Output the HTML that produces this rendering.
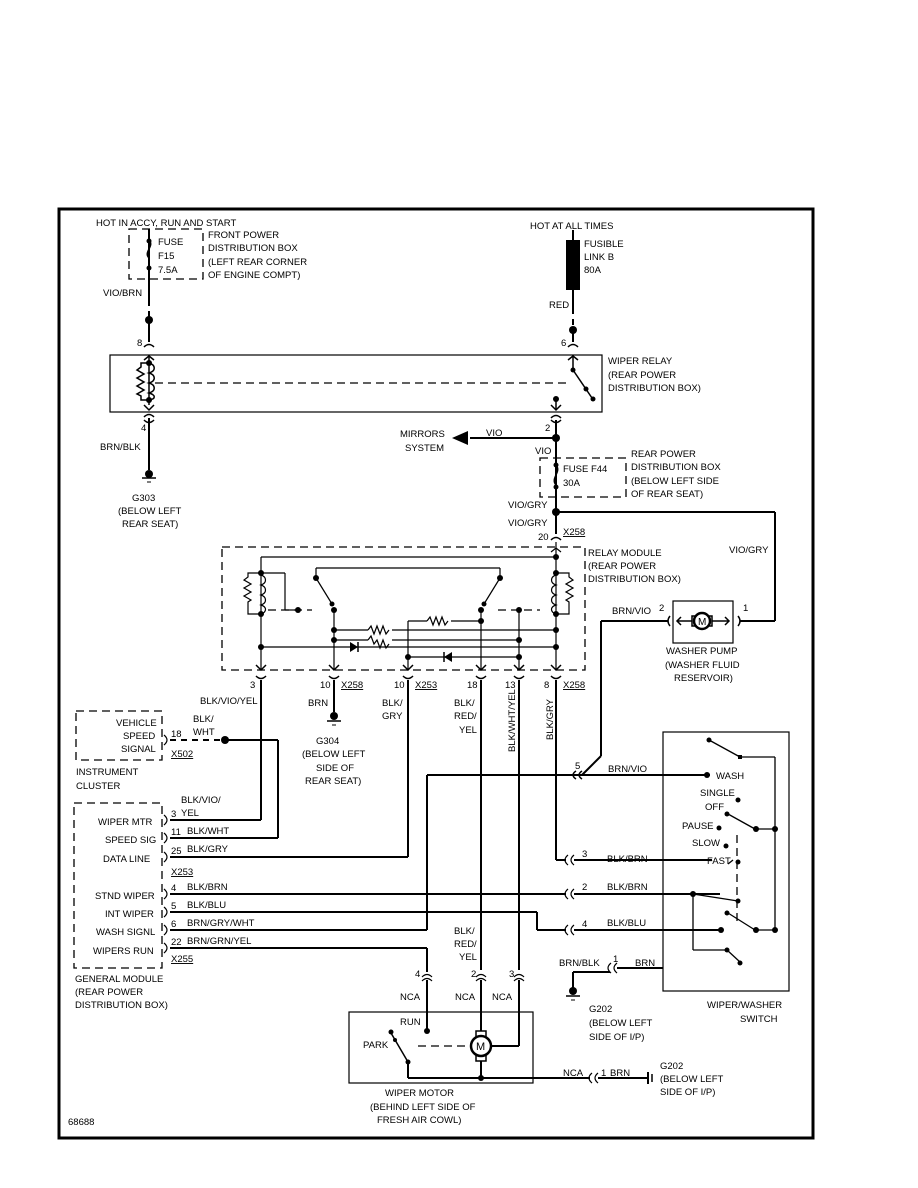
<!DOCTYPE html>
<html><head><meta charset="utf-8"><style>
html,body{margin:0;padding:0;background:#fff;}
svg{display:block;}
text{font-family:"Liberation Sans",sans-serif;font-size:9.5px;fill:#000;}
</style></head><body>
<svg width="918" height="1188" viewBox="0 0 918 1188" xmlns="http://www.w3.org/2000/svg">
<rect x="0" y="0" width="918" height="1188" fill="#fff"/>
<rect x="59" y="209" width="754" height="929" fill="none" stroke="#000" stroke-width="3"/>

<g stroke="#000" fill="none" stroke-width="2">
<line x1="149" y1="229" x2="149" y2="300"/>
<line x1="149" y1="300" x2="149" y2="322" stroke-dasharray="6,5"/>
<line x1="149" y1="322" x2="149" y2="342"/>
<line x1="149" y1="418" x2="149" y2="470"/>
<line x1="573" y1="230" x2="573" y2="240"/>
<line x1="573" y1="290" x2="573" y2="308"/>
<line x1="573" y1="308" x2="573" y2="328" stroke-dasharray="6,5"/>
<line x1="573" y1="328" x2="573" y2="342"/>
<line x1="556" y1="420" x2="556" y2="534"/>
<line x1="470" y1="438" x2="556" y2="438"/>
<line x1="556" y1="512" x2="775" y2="512"/>
<line x1="775" y1="512" x2="775" y2="621"/>
<line x1="775" y1="621" x2="740" y2="621"/>
<line x1="668" y1="621" x2="601" y2="621"/>
<line x1="601" y1="621" x2="601" y2="756"/>
<line x1="601" y1="756" x2="582" y2="775"/>
<line x1="427" y1="775" x2="710" y2="775"/>
<line x1="427" y1="775" x2="427" y2="930"/>
<line x1="261" y1="680" x2="261" y2="820"/>
<line x1="170" y1="820" x2="261" y2="820"/>
<line x1="334" y1="680" x2="334" y2="712"/>
<line x1="408" y1="680" x2="408" y2="857"/>
<line x1="170" y1="857" x2="408" y2="857"/>
<line x1="481" y1="680" x2="481" y2="970"/>
<line x1="519" y1="680" x2="519" y2="970"/>
<line x1="556" y1="680" x2="556" y2="860"/>
<line x1="556" y1="860" x2="566" y2="860"/>
<line x1="574" y1="860" x2="712" y2="860"/>
<line x1="170" y1="740" x2="222" y2="740" stroke-dasharray="6,5"/>
<line x1="225" y1="740" x2="278" y2="740"/>
<line x1="278" y1="740" x2="278" y2="838"/>
<line x1="170" y1="838" x2="278" y2="838"/>
<line x1="170" y1="894" x2="566" y2="894"/>
<line x1="574" y1="894" x2="720" y2="894"/>
<line x1="170" y1="912" x2="537" y2="912"/>
<line x1="537" y1="912" x2="537" y2="930"/>
<line x1="537" y1="930" x2="566" y2="930"/>
<line x1="574" y1="930" x2="722" y2="930"/>
<line x1="170" y1="930" x2="427" y2="930"/>
<line x1="170" y1="948" x2="427" y2="948"/>
<line x1="427" y1="948" x2="427" y2="972"/>
<line x1="427" y1="980" x2="427" y2="1031"/>
<line x1="481" y1="980" x2="481" y2="1034"/>
<line x1="519" y1="980" x2="519" y2="1046"/>
<line x1="519" y1="1046" x2="492" y2="1046"/>
<line x1="573" y1="972" x2="573" y2="988"/>
<line x1="573" y1="972" x2="610" y2="972"/>
<line x1="617" y1="968" x2="663" y2="968"/>
<line x1="408" y1="1062" x2="408" y2="1078"/>
<line x1="408" y1="1078" x2="590" y2="1078"/>
<line x1="598" y1="1078" x2="648" y2="1078"/>
<line x1="481" y1="1058" x2="481" y2="1078"/>
</g>

<g stroke="#000" fill="none" stroke-width="1.3" stroke-dasharray="8,5">
<rect x="129" y="229" width="74" height="50"/>
<rect x="540" y="458" width="86" height="39"/>
<rect x="222" y="547" width="363" height="123"/>
<rect x="76" y="711" width="86" height="49"/>
<rect x="74" y="803" width="88" height="165"/>
<line x1="155" y1="383" x2="570" y2="383"/>
<line x1="418" y1="1046" x2="470" y2="1046"/>
<line x1="737" y1="835" x2="737" y2="926"/>
<line x1="268" y1="610" x2="312" y2="610"/>
<line x1="498" y1="610" x2="540" y2="610"/>
</g>
<path d="M149 240 C155 246,143 252,149 258" stroke="#000" fill="none" stroke-width="1.5"/>
<circle cx="149" cy="268" r="2.5"/>
<circle cx="149" cy="241" r="2.5"/>
<circle cx="149" cy="320" r="4"/>
<rect x="566" y="240" width="14" height="50" fill="#000"/>
<circle cx="573" cy="330" r="4"/>

<rect x="110" y="355" width="492" height="57" fill="none" stroke="#000" stroke-width="1.2"/>
<g stroke="#000" fill="none" stroke-width="1.5">
<path d="M144 347 Q149 342 154 347"/>
<path d="M144 417 Q149 412 154 417"/>
<path d="M144 420 Q149 425 154 420"/>
<line x1="149" y1="355" x2="149" y2="405"/>
<path d="M149 363 L141 363 L141 367 L137 370 L144 374 L137 378 L144 382 L137 386 L144 390 L137 394 L141 396 L141 400 L149 400"/>
<path d="M149 363 C156 365,156 371,149 373 C156 375,156 381,149 383 C156 385,156 391,149 393 C156 395,156 399,149 400"/>
<path d="M144 360 L149 356 L154 360"/>
<path d="M144 405 L149 410 L154 405"/>
<path d="M568 347 Q573 342 578 347"/>
<line x1="573" y1="355" x2="573" y2="368"/>
<path d="M568 360 L573 356 L578 360"/>
<line x1="573" y1="370" x2="592" y2="398"/>
<path d="M551 420 Q556 425 561 420"/>
<path d="M551 418 Q556 413 561 418"/>
<line x1="556" y1="398" x2="556" y2="410"/>
<path d="M551 405 L556 410 L561 405"/>
<path d="M582 779 Q576 775 582 771"/>
<path d="M576 779 Q570 775 576 771"/>
</g>
<circle cx="149" cy="363" r="3"/><circle cx="149" cy="400" r="3"/>
<circle cx="573" cy="370" r="2.5"/><circle cx="586" cy="389" r="2.5"/><circle cx="593" cy="399" r="2.5"/>
<circle cx="556" cy="399" r="3"/>
<circle cx="556" cy="438" r="4"/>
<polygon points="452,438 468,431 468,445" fill="#000"/>
<circle cx="149" cy="474" r="4"/>
<line x1="142" y1="478" x2="156" y2="478" stroke="#000" stroke-width="1.5"/>
<line x1="147" y1="482" x2="151" y2="482" stroke="#000" stroke-width="1"/>
<path d="M556 465 C562 472,550 478,556 485" stroke="#000" fill="none" stroke-width="1.5"/>
<circle cx="556" cy="465" r="2.5"/><circle cx="556" cy="487" r="2.5"/>
<circle cx="556" cy="512" r="4"/>
<path d="M551 540 Q556 535 561 540" stroke="#000" fill="none" stroke-width="1.5"/>

<g stroke="#000" fill="none" stroke-width="1.2">
<line x1="261" y1="557" x2="556" y2="557"/>
<line x1="556" y1="542" x2="556" y2="557"/>
<path d="M551 552 L556 548 L561 552"/>
<line x1="261" y1="557" x2="261" y2="670"/>
<line x1="556" y1="557" x2="556" y2="670"/>
<line x1="316" y1="568" x2="500" y2="568"/>
<line x1="316" y1="568" x2="316" y2="578"/>
<line x1="500" y1="568" x2="500" y2="578"/>
<line x1="316" y1="578" x2="332" y2="604"/>
<line x1="500" y1="578" x2="484" y2="604"/>
<line x1="334" y1="610" x2="334" y2="670"/>
<line x1="261" y1="573" x2="285" y2="573"/>
<line x1="285" y1="573" x2="285" y2="610"/>
<line x1="285" y1="610" x2="298" y2="610"/>
<path d="M261 573 L248 573 L248 577 L244 580 L251 584 L244 588 L251 592 L244 596 L251 600 L248 602 L248 614 L261 614"/>
<path d="M261 575 C267 577,267 583,261 585 C267 587,267 593,261 595 C267 597,267 603,261 605 C267 607,267 612,261 614"/>
<path d="M556 573 L569 573 L569 577 L573 580 L566 584 L573 588 L566 592 L573 596 L566 600 L569 602 L569 614 L556 614"/>
<path d="M556 575 C550 577,550 583,556 585 C550 587,550 593,556 595 C550 597,550 603,556 605 C550 607,550 612,556 614"/>
<line x1="481" y1="610" x2="481" y2="670"/>
<line x1="519" y1="610" x2="519" y2="670"/>
<line x1="334" y1="630" x2="368" y2="630"/>
<path d="M368 630 l3 -4 l3 8 l3 -8 l3 8 l3 -8 l3 8 l3 -4"/>
<line x1="392" y1="630" x2="556" y2="630"/>
<line x1="334" y1="640" x2="368" y2="640"/>
<path d="M368 640 l3 -4 l3 8 l3 -4 l3 8 l3 -8 l3 8 l3 -4"/>
<line x1="392" y1="640" x2="519" y2="640"/>
<line x1="408" y1="621" x2="427" y2="621"/>
<path d="M427 621 l3 -4 l3 8 l3 -8 l3 8 l3 -8 l3 8 l3 -4"/>
<line x1="451" y1="621" x2="481" y2="621"/>
<line x1="408" y1="621" x2="408" y2="670"/>
<line x1="261" y1="647" x2="556" y2="647"/>
<line x1="408" y1="657" x2="519" y2="657"/>
</g>
<polygon points="350,642 350,652 358,647" fill="#000"/><line x1="358" y1="642" x2="358" y2="652" stroke="#000" stroke-width="1.5"/>
<polygon points="452,652 452,662 444,657" fill="#000"/><line x1="444" y1="652" x2="444" y2="662" stroke="#000" stroke-width="1.5"/>
<g fill="#000">
<circle cx="261" cy="573" r="3"/><circle cx="261" cy="614" r="3"/><circle cx="261" cy="647" r="3"/>
<circle cx="298" cy="610" r="3"/><circle cx="316" cy="578" r="3"/><circle cx="332" cy="604" r="2.5"/><circle cx="334" cy="610" r="3"/>
<circle cx="334" cy="630" r="3"/><circle cx="334" cy="640" r="3"/>
<circle cx="500" cy="578" r="3"/><circle cx="484" cy="604" r="2.5"/><circle cx="481" cy="610" r="3"/><circle cx="481" cy="621" r="3"/>
<circle cx="519" cy="610" r="3"/><circle cx="519" cy="640" r="3"/><circle cx="519" cy="657" r="3"/>
<circle cx="408" cy="657" r="3"/>
<circle cx="556" cy="557" r="3"/><circle cx="556" cy="573" r="3"/><circle cx="556" cy="614" r="3"/><circle cx="556" cy="630" r="3"/><circle cx="556" cy="647" r="3"/>
</g>
<g stroke="#000" fill="none" stroke-width="1.5">
<path d="M256 665 L261 670 L266 665"/><path d="M256 676 Q261 681 266 676"/>
<path d="M329 665 L334 670 L339 665"/><path d="M329 676 Q334 681 339 676"/>
<path d="M403 665 L408 670 L413 665"/><path d="M403 676 Q408 681 413 676"/>
<path d="M476 665 L481 670 L486 665"/><path d="M476 676 Q481 681 486 676"/>
<path d="M514 665 L519 670 L524 665"/><path d="M514 676 Q519 681 524 676"/>
<path d="M551 665 L556 670 L561 665"/><path d="M551 676 Q556 681 561 676"/>
</g>
<circle cx="334" cy="716" r="4"/>
<line x1="327" y1="721" x2="341" y2="721" stroke="#000" stroke-width="1.5"/>
<line x1="332" y1="725" x2="336" y2="725" stroke="#000" stroke-width="1"/>
<circle cx="225" cy="740" r="4"/>

<rect x="673" y="601" width="60" height="42" fill="none" stroke="#000" stroke-width="1.2"/>
<g stroke="#000" fill="none" stroke-width="1.5">
<line x1="677" y1="621" x2="729" y2="621"/>
<path d="M681 617 L677 621 L681 625"/><path d="M725 617 L729 621 L725 625"/>
<path d="M670 616 Q666 621 670 626"/><path d="M738 616 Q742 621 738 626"/>
<rect x="692" y="616" width="20" height="10" fill="#fff"/>
</g>
<circle cx="702" cy="621" r="8" fill="#fff" stroke="#000" stroke-width="2.5"/>
<text x="698" y="625" style="font-size:10px">M</text>

<g stroke="#000" fill="none" stroke-width="1.2">
<path d="M164 815 Q170 820 164 825"/><path d="M164 833 Q170 838 164 843"/><path d="M164 852 Q170 857 164 862"/>
<path d="M164 889 Q170 894 164 899"/><path d="M164 907 Q170 912 164 917"/><path d="M164 925 Q170 930 164 935"/><path d="M164 943 Q170 948 164 953"/>
<path d="M164 735 Q170 740 164 745"/>
<path d="M574 855 Q568 860 574 865"/><path d="M568 855 Q562 860 568 865"/>
<path d="M574 889 Q568 894 574 899"/><path d="M568 889 Q562 894 568 899"/>
<path d="M574 925 Q568 930 574 935"/><path d="M568 925 Q562 930 568 935"/>
<path d="M617 963 Q611 968 617 973"/><path d="M611 963 Q605 968 611 973"/>
<path d="M598 1073 Q592 1078 598 1083"/><path d="M592 1073 Q586 1078 592 1083"/>
<path d="M422 977 Q427 972 432 977"/><path d="M422 981 Q427 976 432 981"/>
<path d="M476 977 Q481 972 486 977"/><path d="M476 981 Q481 976 486 981"/>
<path d="M514 977 Q519 972 524 977"/><path d="M514 981 Q519 976 524 981"/>
</g>

<rect x="663" y="732" width="126" height="259" fill="none" stroke="#000" stroke-width="1.2"/>
<g stroke="#000" fill="none" stroke-width="1.3">
<line x1="709" y1="740" x2="740" y2="757"/>
<line x1="740" y1="757" x2="775" y2="757"/>
<line x1="775" y1="757" x2="775" y2="930"/>
<line x1="728" y1="814" x2="755" y2="829"/>
<line x1="755" y1="829" x2="775" y2="829"/>
<line x1="733" y1="860" x2="728" y2="864"/>
<line x1="693" y1="894" x2="738" y2="901"/>
<line x1="693" y1="894" x2="693" y2="950"/>
<line x1="693" y1="950" x2="727" y2="950"/>
<line x1="727" y1="950" x2="740" y2="962"/>
<line x1="728" y1="913" x2="755" y2="930"/>
<line x1="755" y1="930" x2="775" y2="930"/>
</g>
<g fill="#000">
<circle cx="709" cy="740" r="2.5"/><rect x="738" y="755" width="4" height="4"/>
<circle cx="707" cy="775" r="3"/><circle cx="738" cy="800" r="2.5"/><circle cx="727" cy="814" r="2.5"/>
<circle cx="719" cy="828" r="2.5"/><circle cx="756" cy="829" r="3"/><circle cx="775" cy="829" r="3"/>
<circle cx="726" cy="846" r="2.5"/><circle cx="738" cy="862" r="2.5"/>
<circle cx="693" cy="894" r="3"/><circle cx="738" cy="901" r="2.5"/><circle cx="727" cy="913" r="2.5"/>
<circle cx="721" cy="930" r="3"/><circle cx="756" cy="930" r="3"/><circle cx="775" cy="930" r="3"/>
<circle cx="727" cy="950" r="2.5"/><circle cx="740" cy="963" r="2.5"/>
</g>
<circle cx="573" cy="991" r="4"/>
<line x1="566" y1="996" x2="580" y2="996" stroke="#000" stroke-width="1.5"/>
<line x1="571" y1="1000" x2="575" y2="1000" stroke="#000" stroke-width="1"/>
<line x1="648" y1="1072" x2="648" y2="1084" stroke="#000" stroke-width="2"/>
<line x1="652" y1="1074" x2="652" y2="1082" stroke="#000" stroke-width="1.5"/>

<rect x="349" y="1012" width="184" height="71" fill="none" stroke="#000" stroke-width="1.2"/>
<g stroke="#000" fill="none" stroke-width="1.5">
<line x1="391" y1="1033" x2="408" y2="1062"/>
<rect x="476" y="1031" width="10" height="30" fill="#fff"/>
</g>
<circle cx="391" cy="1032" r="2.5"/><circle cx="395" cy="1040" r="2"/><circle cx="408" cy="1062" r="2.5"/>
<circle cx="427" cy="1031" r="3"/><circle cx="481" cy="1078" r="3"/>
<circle cx="481" cy="1046" r="10" fill="#fff" stroke="#000" stroke-width="2.5"/>
<text x="476" y="1050" style="font-size:11px">M</text>

<g>
<text x="96" y="226">HOT IN ACCY, RUN AND START</text>
<text x="158" y="245">FUSE</text><text x="158" y="259">F15</text><text x="158" y="273">7.5A</text>
<text x="208" y="238">FRONT POWER</text><text x="208" y="251">DISTRIBUTION BOX</text><text x="208" y="265">(LEFT REAR CORNER</text><text x="208" y="278">OF ENGINE COMPT)</text>
<text x="103" y="296">VIO/BRN</text>
<text x="137" y="346">8</text>
<text x="141" y="431">4</text>
<text x="100" y="450">BRN/BLK</text>
<text x="132" y="501">G303</text><text x="118" y="514">(BELOW LEFT</text><text x="122" y="527">REAR SEAT)</text>
<text x="530" y="229">HOT AT ALL TIMES</text>
<text x="584" y="247">FUSIBLE</text><text x="584" y="260">LINK B</text><text x="584" y="273">80A</text>
<text x="549" y="308">RED</text>
<text x="561" y="346">6</text>
<text x="608" y="364">WIPER RELAY</text><text x="608" y="378">(REAR POWER</text><text x="608" y="391">DISTRIBUTION BOX)</text>
<text x="545" y="431">2</text>
<text x="486" y="436">VIO</text>
<text x="400" y="437">MIRRORS</text><text x="405" y="451">SYSTEM</text>
<text x="535" y="454">VIO</text>
<text x="563" y="472">FUSE F44</text><text x="563" y="486">30A</text>
<text x="631" y="457">REAR POWER</text><text x="631" y="470">DISTRIBUTION BOX</text><text x="631" y="484">(BELOW LEFT SIDE</text><text x="631" y="497">OF REAR SEAT)</text>
<text x="508" y="508">VIO/GRY</text>
<text x="508" y="526">VIO/GRY</text>
<text x="538" y="540">20</text><text x="563" y="535" text-decoration="underline">X258</text>
<text x="729" y="553">VIO/GRY</text>
<text x="588" y="556">RELAY MODULE</text><text x="588" y="569">(REAR POWER</text><text x="588" y="582">DISTRIBUTION BOX)</text>
<text x="612" y="614">BRN/VIO</text><text x="659" y="611">2</text><text x="743" y="611">1</text>
<text x="666" y="654">WASHER PUMP</text><text x="665" y="668">(WASHER FLUID</text><text x="674" y="681">RESERVOIR)</text>
<text x="250" y="688">3</text>
<text x="320" y="688">10</text><text x="341" y="688" text-decoration="underline">X258</text>
<text x="394" y="688">10</text><text x="415" y="688" text-decoration="underline">X253</text>
<text x="467" y="688">18</text>
<text x="505" y="688">13</text>
<text x="544" y="688">8</text><text x="563" y="688" text-decoration="underline">X258</text>
<text x="200" y="704">BLK/VIO/YEL</text>
<text x="308" y="706">BRN</text>
<text x="382" y="706">BLK/</text><text x="382" y="719">GRY</text>
<text x="454" y="706">BLK/</text><text x="454" y="719">RED/</text><text x="459" y="733">YEL</text>
<text transform="translate(515,752) rotate(-90)">BLK/WHT/YEL</text>
<text transform="translate(553,740) rotate(-90)">BLK/GRY</text>
<text x="116" y="726">VEHICLE</text><text x="123" y="739">SPEED</text><text x="121" y="752">SIGNAL</text>
<text x="171" y="737">18</text>
<text x="193" y="722">BLK/</text><text x="193" y="735">WHT</text>
<text x="171" y="757" text-decoration="underline">X502</text>
<text x="76" y="775">INSTRUMENT</text><text x="76" y="789">CLUSTER</text>
<text x="316" y="744">G304</text><text x="302" y="757">(BELOW LEFT</text><text x="316" y="771">SIDE OF</text><text x="305" y="784">REAR SEAT)</text>
<text x="181" y="803">BLK/VIO/</text>
<text x="171" y="817">3</text><text x="181" y="816">YEL</text>
<text x="98" y="825">WIPER MTR</text>
<text x="171" y="835">11</text><text x="187" y="834">BLK/WHT</text>
<text x="105" y="843">SPEED SIG</text>
<text x="171" y="854">25</text><text x="187" y="852">BLK/GRY</text>
<text x="103" y="862">DATA LINE</text>
<text x="171" y="875" text-decoration="underline">X253</text>
<text x="171" y="891">4</text><text x="187" y="890">BLK/BRN</text>
<text x="95" y="899">STND WIPER</text>
<text x="171" y="909">5</text><text x="187" y="908">BLK/BLU</text>
<text x="105" y="917">INT WIPER</text>
<text x="171" y="927">6</text><text x="187" y="926">BRN/GRY/WHT</text>
<text x="96" y="935">WASH SIGNL</text>
<text x="171" y="945">22</text><text x="187" y="944">BRN/GRN/YEL</text>
<text x="93" y="954">WIPERS RUN</text>
<text x="171" y="962" text-decoration="underline">X255</text>
<text x="75" y="982">GENERAL MODULE</text><text x="75" y="995">(REAR POWER</text><text x="75" y="1008">DISTRIBUTION BOX)</text>
<text x="575" y="769">5</text><text x="608" y="772">BRN/VIO</text>
<text x="716" y="779">WASH</text>
<text x="700" y="796">SINGLE</text>
<text x="705" y="810">OFF</text>
<text x="682" y="829">PAUSE</text>
<text x="692" y="846">SLOW</text>
<text x="707" y="864">FAST</text>
<text x="582" y="857">3</text><text x="607" y="862">BLK/BRN</text>
<text x="582" y="890">2</text><text x="607" y="890">BLK/BRN</text>
<text x="582" y="927">4</text><text x="607" y="926">BLK/BLU</text>
<text x="559" y="966">BRN/BLK</text><text x="613" y="962">1</text><text x="635" y="966">BRN</text>
<text x="589" y="1012">G202</text><text x="589" y="1026">(BELOW LEFT</text><text x="589" y="1040">SIDE OF I/P)</text>
<text x="707" y="1008">WIPER/WASHER</text><text x="740" y="1022">SWITCH</text>
<text x="454" y="934">BLK/</text><text x="454" y="947">RED/</text><text x="459" y="960">YEL</text>
<text x="415" y="977">4</text><text x="471" y="977">2</text><text x="509" y="977">3</text>
<text x="400" y="1000">NCA</text><text x="455" y="1000">NCA</text><text x="492" y="1000">NCA</text>
<text x="400" y="1025">RUN</text>
<text x="363" y="1048">PARK</text>
<text x="563" y="1076">NCA</text><text x="601" y="1076">1</text><text x="610" y="1076">BRN</text>
<text x="660" y="1069">G202</text><text x="660" y="1082">(BELOW LEFT</text><text x="660" y="1095">SIDE OF I/P)</text>
<text x="385" y="1096">WIPER MOTOR</text><text x="370" y="1110">(BEHIND LEFT SIDE OF</text><text x="377" y="1123">FRESH AIR COWL)</text>
<text x="68" y="1125">68688</text>
</g>
</svg>
</body></html>
